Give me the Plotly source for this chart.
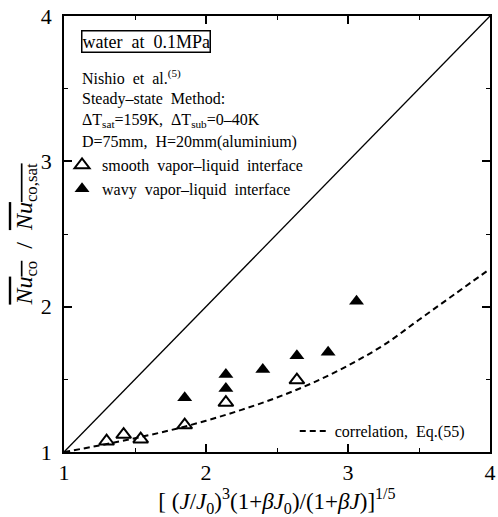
import plotly.graph_objects as go

# Data
smooth_x = [1.30, 1.42, 1.54, 1.85, 2.14, 2.64]
smooth_y = [1.074, 1.12, 1.088, 1.185, 1.34, 1.495]
wavy_x = [1.85, 2.14, 2.14, 2.40, 2.64, 2.86, 3.06]
wavy_y = [1.373, 1.437, 1.534, 1.567, 1.663, 1.686, 2.037]
corr_x = [1.0, 1.25, 1.5, 1.75, 2.0, 2.25, 2.5, 2.75, 3.0, 3.25, 3.5, 3.75, 4.0]
corr_y = [1.0, 1.045, 1.095, 1.15, 1.215, 1.29, 1.375, 1.475, 1.595, 1.735, 1.91, 2.085, 2.26]
diag_x = [1, 4]
diag_y = [1, 4]
tick_vals = [1, 2, 3, 4]

FONT = "Liberation Serif"
W, H = 498, 517
ML, MR, MT, MB = 64, 2, 16, 65
PW, PH = W - ML - MR, H - MT - MB
SP = "\u00a0"

def px(x):
    return (x - ML) / PW

def py(y):
    return (H - MB - y) / PH

fig = go.Figure()
fig.add_trace(go.Scatter(x=diag_x, y=diag_y, mode="lines", line=dict(color="black", width=1.3),
                         showlegend=False, hoverinfo="skip"))
fig.add_trace(go.Scatter(x=corr_x, y=corr_y, mode="lines", line=dict(color="black", width=2, dash="6px,4px"),
                         line_shape="spline", name=f"correlation,{SP}{SP}Eq.(55)", legend="legend2"))
fig.add_trace(go.Scatter(x=smooth_x, y=smooth_y, mode="markers",
                         marker=dict(symbol="triangle-up-open", size=13, color="black", line=dict(width=2)),
                         name=f"smooth{SP}{SP}vapor\u2013liquid{SP}{SP}interface", legend="legend"))
fig.add_trace(go.Scatter(x=wavy_x, y=wavy_y, mode="markers",
                         marker=dict(symbol="triangle-up", size=13, color="black"),
                         name=f"wavy{SP}{SP}vapor\u2013liquid{SP}{SP}interface", legend="legend"))

axis_common = dict(showgrid=False, zeroline=False, showline=True, linecolor="black", linewidth=1.5,
                   mirror="allticks", ticks="inside", ticklen=8, tickwidth=1.5, tickcolor="black",
                   tickvals=tick_vals, tickfont=dict(family=FONT, size=22, color="black"),
                   ticklabeloverflow="allow",
                   minor=dict(ticks="inside", ticklen=4, tickwidth=1.2, tickcolor="black", dtick=0.5))

fig.update_xaxes(range=[1, 4], **axis_common,
                 title=dict(text=f"[{SP}(<i>J</i>/<i>J</i><sub>0</sub>)<sup>3</sup>(1+<i>βJ</i><sub>0</sub>)/(1+<i>βJ</i>)]<sup>1/5</sup>",
                            font=dict(family=FONT, size=23, color="black"), standoff=0))
fig.update_yaxes(range=[1, 4], **axis_common, ticklabelstandoff=6,
                 title=dict(text=f'<span style="text-decoration:overline"><i>Nu</i><sub>co</sub></span>{SP}{SP}/{SP}{SP}'
                                 '<span style="text-decoration:overline"><i>Nu</i><sub>co,sat</sub></span>',
                            font=dict(family=FONT, size=24, color="black"), standoff=0))

ann_font = dict(family=FONT, size=16, color="black")
texts = [
    (f"Nishio{SP} et{SP} al.<sup>(5)</sup>", 77),
    (f"Steady\u2013state{SP} Method:", 99),
    (f"\u0394T<sub>sat</sub>=159K,{SP} \u0394T<sub>sub</sub>=0\u201340K", 120.5),
    (f"D=75mm,{SP} H=20mm(aluminium)", 142),
]
annotations = [dict(text=f"water{SP}{SP}at{SP}{SP}0.1MPa", x=px(81), y=py(42), xref="paper", yref="paper",
                    xanchor="left", yanchor="middle", showarrow=False,
                    font=dict(family=FONT, size=18, color="black"),
                    bordercolor="black", borderwidth=1.5, borderpad=0)]
for t, yy in texts:
    annotations.append(dict(text=t, x=px(80), y=py(yy), xref="paper", yref="paper",
                            xanchor="left", yanchor="middle", showarrow=False, font=ann_font))

fig.update_layout(
    width=W, height=H, margin=dict(l=ML, r=MR, t=MT, b=MB),
    paper_bgcolor="white", plot_bgcolor="white",
    annotations=annotations,
    legend=dict(x=px(62), y=py(148), xanchor="left", yanchor="top", bgcolor="rgba(0,0,0,0)",
                font=ann_font, tracegroupgap=0, itemwidth=30),
    legend2=dict(x=px(298), y=py(431), xanchor="left", yanchor="middle", bgcolor="rgba(0,0,0,0)",
                 font=ann_font, itemwidth=30),
)

fig.write_html("out.html")
